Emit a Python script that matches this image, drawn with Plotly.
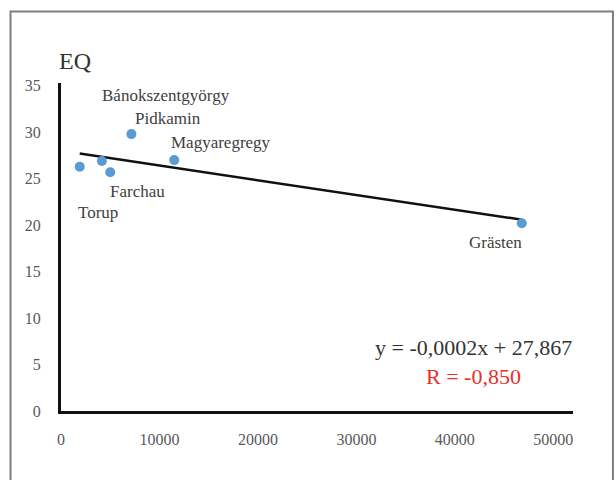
import numpy as np
import plotly.graph_objects as go

# Data
sites = ["Torup", "Bánokszentgyörgy", "Farchau", "Pidkamin", "Magyaregregy", "Grästen"]
population = [1900, 4150, 5000, 7150, 11500, 46800]
eq_values = [26.3, 26.9, 25.7, 29.8, 27.0, 20.2]
x_ticks = [0, 10000, 20000, 30000, 40000, 50000]
y_ticks = [0, 5, 10, 15, 20, 25, 30, 35]
equation_text = "y = -0,0002x + 27,867"
r_text = "R = -0,850"

# label offsets in pixels (layout only)
label_shift = {
    "Torup": (18, -46),
    "Bánokszentgyörgy": (64, 66),
    "Farchau": (27, -19),
    "Pidkamin": (37, 16),
    "Magyaregregy": (47, 18),
    "Grästen": (-26, -19),
}

FONT = "Liberation Serif"

slope, intercept = np.polyfit(population, eq_values, 1)
x_line = np.array([min(population), max(population)])
y_line = slope * x_line + intercept

fig = go.Figure()
fig.add_trace(go.Scatter(
    x=x_line, y=y_line, mode="lines",
    line=dict(color="#111111", width=2.5),
    hoverinfo="skip", showlegend=False,
))
fig.add_trace(go.Scatter(
    x=population, y=eq_values, mode="markers",
    marker=dict(color="#5b9bd5", size=10),
    showlegend=False,
))

for name, xv, yv in zip(sites, population, eq_values):
    dx, dy = label_shift[name]
    fig.add_annotation(
        x=xv, y=yv, text=name, showarrow=False,
        xshift=dx, yshift=dy,
        font=dict(family=FONT, size=17, color="#404040"),
    )

fig.add_annotation(
    xref="paper", yref="paper", x=0.805, y=0.195, text=equation_text,
    showarrow=False, xanchor="center", yanchor="middle",
    font=dict(family=FONT, size=22, color="#333333"),
)
fig.add_annotation(
    xref="paper", yref="paper", x=0.806, y=0.104, text=r_text,
    showarrow=False, xanchor="center", yanchor="middle",
    font=dict(family=FONT, size=22, color="#e8302a"),
)
fig.add_annotation(
    xref="paper", yref="paper", x=0.027, y=1.022, text="EQ",
    showarrow=False, xanchor="center", yanchor="bottom",
    font=dict(family=FONT, size=24, color="#333333"),
)

# outer frame
fig.add_shape(
    type="rect", xref="paper", yref="paper",
    x0=-0.0986, x1=1.078, y0=-0.3, y1=1.218,
    line=dict(color="#7f7f7f", width=2), fillcolor="rgba(0,0,0,0)",
    layer="below",
)

fig.update_layout(
    width=616, height=480,
    margin=dict(l=61, r=43, t=83, b=69),
    paper_bgcolor="white", plot_bgcolor="white",
    xaxis=dict(
        range=[0, 52000], tickvals=x_ticks,
        ticktext=[str(v) for v in x_ticks],
        showgrid=False, zeroline=False,
        showline=True, linecolor="#111111", linewidth=3,
        ticks="", ticklabelstandoff=12,
        tickfont=dict(family=FONT, size=16, color="#595959"),
    ),
    yaxis=dict(
        range=[0, 35.3], tickvals=y_ticks,
        showgrid=False, zeroline=False,
        showline=True, linecolor="#111111", linewidth=3,
        ticks="", ticklabelstandoff=14,
        tickfont=dict(family=FONT, size=16, color="#595959"),
    ),
)

fig.write_html(
    "out.html",
    config={"displayModeBar": False},
    post_script="document.body.style.margin='0';document.body.style.overflow='hidden';",
)
